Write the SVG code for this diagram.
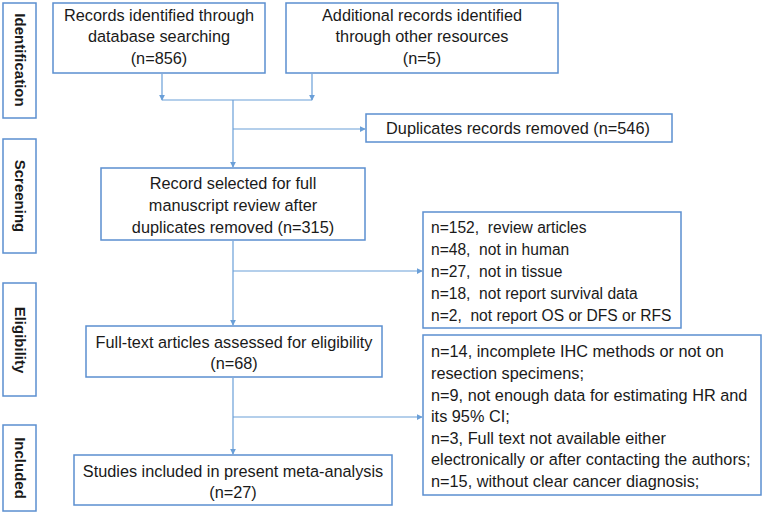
<svg xmlns="http://www.w3.org/2000/svg" width="763" height="513" viewBox="0 0 763 513">
<style>
.box{fill:#fff;stroke:#5b8fd0;stroke-width:1.5}
.ln{fill:none;stroke:#6a9fd8;stroke-width:1.2}
text{font-family:"Liberation Sans",Arial,sans-serif;font-size:16.3px;fill:#1a1a1a;white-space:pre}
.c{text-anchor:middle}
.s{font-size:15.6px}
.ph{font-weight:bold;font-size:15px;text-anchor:middle}
</style>
<defs>
<marker id="ah" viewBox="0 0 8 8" refX="7" refY="4" markerWidth="6" markerHeight="6" orient="auto" markerUnits="userSpaceOnUse">
<path d="M0,0 L8,4 L0,8 z" fill="#6a9fd8"/>
</marker>
</defs>
<rect width="763" height="513" fill="#fff"/>
<g id="phase-identification"><rect class="box" x="3" y="3" width="33" height="115"/><text class="ph" transform="translate(20,60) rotate(90)" dy="5">Identification</text></g>
<g id="phase-screening"><rect class="box" x="3" y="139" width="33" height="114"/><text class="ph" transform="translate(20,196) rotate(90)" dy="5">Screening</text></g>
<g id="phase-eligibility"><rect class="box" x="3" y="283" width="33" height="113"/><text class="ph" transform="translate(20,340) rotate(90)" dy="5">Eligibility</text></g>
<g id="phase-included"><rect class="box" x="3" y="425" width="33" height="86"/><text class="ph" transform="translate(20,468) rotate(90)" dy="5">Included</text></g>
<g id="records-db"><rect class="box" x="53" y="3" width="212" height="70"/>
<text class="c" x="159" y="21">Records identified through</text>
<text class="c" x="159" y="42">database searching</text>
<text class="c" x="159" y="64">(n=856)</text></g>
<g id="records-other"><rect class="box" x="286" y="3" width="272" height="70"/>
<text class="c" x="422" y="21">Additional records identified</text>
<text class="c" x="422" y="42">through other resources</text>
<text class="c" x="422" y="64">(n=5)</text></g>
<g id="duplicates"><rect class="box" x="366" y="114" width="306" height="28"/>
<text class="c" x="518" y="134">Duplicates records removed (n=546)</text></g>
<g id="screened"><rect class="box" x="101" y="168" width="264" height="72"/>
<text class="c" x="233" y="189">Record selected for full</text>
<text class="c" x="233" y="211">manuscript review after</text>
<text class="c" x="233" y="233">duplicates removed (n=315)</text></g>
<g id="excluded-1"><rect class="box" x="423" y="212" width="258" height="116"/>
<text class="s" x="431" y="233">n=152,  review articles</text>
<text class="s" x="431" y="255">n=48,  not in human</text>
<text class="s" x="431" y="277">n=27,  not in tissue</text>
<text class="s" x="431" y="299">n=18,  not report survival data</text>
<text class="s" x="431" y="321">n=2,  not report OS or DFS or RFS</text></g>
<g id="fulltext"><rect class="box" x="86" y="326" width="296" height="51"/>
<text class="c" x="234" y="348">Full-text articles assessed for eligibility</text>
<text class="c" x="234" y="369">(n=68)</text></g>
<g id="excluded-2"><rect class="box" x="423" y="335" width="338" height="160"/>
<text x="431" y="357">n=14, incomplete IHC methods or not on</text>
<text x="431" y="379">resection specimens;</text>
<text x="431" y="401">n=9, not enough data for estimating HR and</text>
<text x="431" y="422">its 95% CI;</text>
<text x="431" y="444">n=3, Full text not available either</text>
<text x="431" y="465">electronically or after contacting the authors;</text>
<text x="431" y="487">n=15, without clear cancer diagnosis;</text></g>
<g id="included"><rect class="box" x="74" y="455" width="318" height="50"/>
<text class="c" x="233" y="477">Studies included in present meta-analysis</text>
<text class="c" x="233" y="498">(n=27)</text></g>
<g id="connectors">
<path class="ln" d="M162,74 V100" marker-end="url(#ah)"/>
<path class="ln" d="M312,74 V100" marker-end="url(#ah)"/>
<path class="ln" d="M162,100 H312"/>
<path class="ln" d="M233,100 V167" marker-end="url(#ah)"/>
<path class="ln" d="M233,129 H365" marker-end="url(#ah)"/>
<path class="ln" d="M233,241 V325" marker-end="url(#ah)"/>
<path class="ln" d="M233,271 H422" marker-end="url(#ah)"/>
<path class="ln" d="M233,378 V454" marker-end="url(#ah)"/>
<path class="ln" d="M233,417 H422" marker-end="url(#ah)"/>
</g>
</svg>
